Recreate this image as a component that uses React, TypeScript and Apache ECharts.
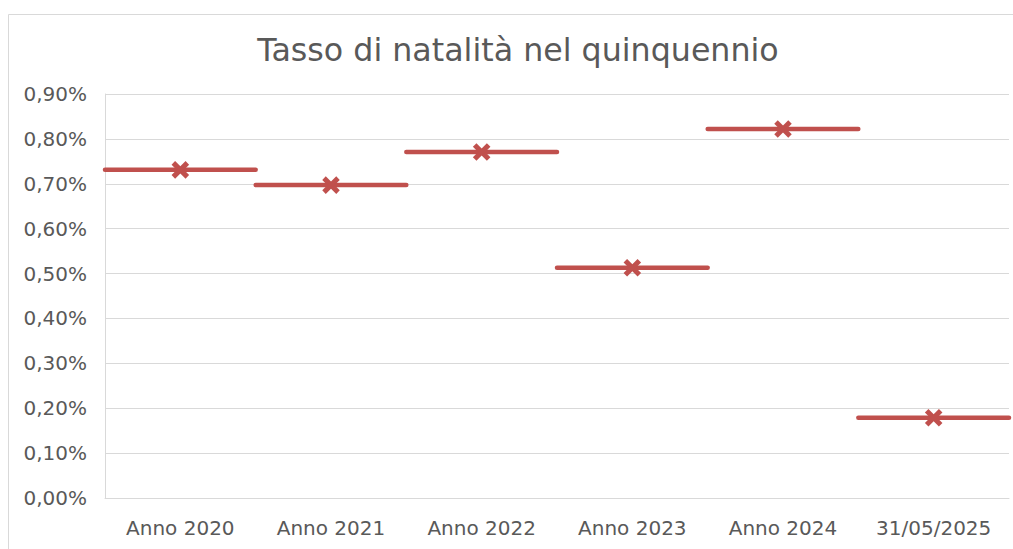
import React, { useEffect, useRef } from "react";
import * as echarts from "echarts";

const TITLE = "Tasso di natalità nel quinquennio";
const categories = ["Anno 2020", "Anno 2021", "Anno 2022", "Anno 2023", "Anno 2024", "31/05/2025"];
const rates = [0.731, 0.697, 0.771, 0.513, 0.822, 0.179];
const yTicks = { min: 0, max: 0.9, interval: 0.1 };

const RED = "#C0504D";
const GREY_TXT = "#595959";
const GRID_COL = "#D9D9D9";
const FONT = "DejaVu Sans";

export default function App() {
  const ref = useRef<HTMLDivElement>(null);
  useEffect(() => {
    if (!ref.current) return;
    const chart = echarts.init(ref.current, undefined, { renderer: "svg" });
    chart.setOption({
      animation: false,
      backgroundColor: "#ffffff",
      title: {
        text: TITLE,
        left: 518,
        textAlign: "center",
        top: 34,
        padding: 0,
        textStyle: { fontFamily: FONT, fontSize: 31.7, fontWeight: "normal", color: GREY_TXT },
      },
      graphic: [
        {
          type: "rect",
          shape: { x: 8.5, y: 14.5, width: 1100, height: 600 },
          style: { fill: "none", stroke: GRID_COL, lineWidth: 1 },
          silent: true,
          z: -10,
        },
      ],
      grid: { left: 105, right: 4, top: 94, bottom: 51, containLabel: false },
      xAxis: {
        type: "category",
        data: categories,
        boundaryGap: true,
        axisLine: { show: true, lineStyle: { color: GRID_COL, width: 1 } },
        axisTick: { show: false },
        axisLabel: { fontFamily: FONT, fontSize: 20, color: GREY_TXT, margin: 20, interval: 0 },
        splitLine: { show: false },
      },
      yAxis: {
        type: "value",
        min: yTicks.min,
        max: yTicks.max,
        interval: yTicks.interval,
        axisLine: { show: true, lineStyle: { color: GRID_COL, width: 1 } },
        axisTick: { show: false },
        axisLabel: {
          fontFamily: FONT,
          fontSize: 20,
          color: GREY_TXT,
          margin: 18,
          formatter: (v: number) => v.toFixed(2).replace(".", ",") + "%",
        },
        splitLine: { show: true, lineStyle: { color: GRID_COL, width: 1 } },
      },
      series: [
        {
          type: "custom",
          clip: false,
          data: rates.map((v, i) => [i, v]),
          encode: { x: 0, y: 1 },
          renderItem: (params: any, api: any) => {
            const pt = api.coord([api.value(0), api.value(1)]);
            const bw = api.size([1, 0])[0];
            const s = 7;
            const x = pt[0];
            const y = pt[1];
            return {
              type: "group",
              children: [
                {
                  type: "line",
                  shape: { x1: x - bw / 2, y1: y, x2: x + bw / 2, y2: y },
                  style: { stroke: RED, lineWidth: 4.5, lineCap: "round" },
                },
                {
                  type: "line",
                  shape: { x1: x - s, y1: y - s, x2: x + s, y2: y + s },
                  style: { stroke: RED, lineWidth: 5 },
                },
                {
                  type: "line",
                  shape: { x1: x - s, y1: y + s, x2: x + s, y2: y - s },
                  style: { stroke: RED, lineWidth: 5 },
                },
              ],
            };
          },
        },
      ],
    });
    return () => chart.dispose();
  }, []);
  return (
    <div
      ref={ref}
      style={{ position: "absolute", left: 0, top: 0, width: 1013, height: 549 }}
    />
  );
}
